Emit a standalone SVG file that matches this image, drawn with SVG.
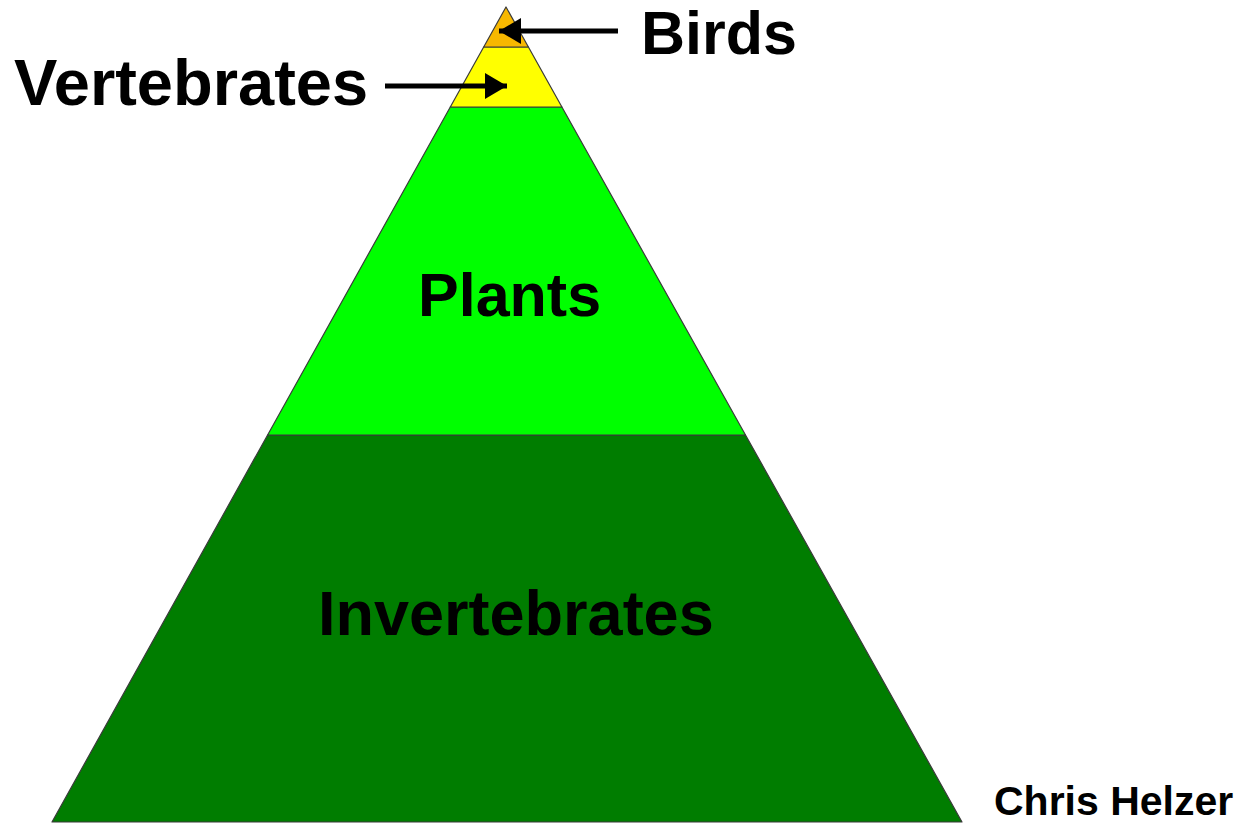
<svg xmlns="http://www.w3.org/2000/svg" width="1249" height="824" viewBox="0 0 1249 824">
  <style>
    .layer { stroke: #3a3a3a; stroke-width: 1.2; stroke-linejoin: round; }
    .lbl { font-family: "Liberation Sans", Arial, sans-serif; font-weight: bold; fill: #000; }
    .arrow { stroke: #000; stroke-width: 5; fill: none; }
  </style>
  <defs>
    <marker id="ah" markerUnits="userSpaceOnUse" markerWidth="24" markerHeight="28" refX="22" refY="13" orient="auto">
      <path d="M0,0 L22,13 L0,26 Z" fill="#000"/>
    </marker>
  </defs>
  <rect width="1249" height="824" fill="#fff"/>
  <g id="invertebrates">
    <polygon class="layer" points="267.6,435 745.5,435 962,822 52,822" fill="#007D00"/>
    <text class="lbl" x="318" y="635" font-size="63">Invertebrates</text>
  </g>
  <g id="plants">
    <polygon class="layer" points="450.3,107 561.9,107 745.5,435 267.6,435" fill="#00FF00"/>
    <text class="lbl" x="418" y="316" font-size="61">Plants</text>
  </g>
  <g id="vertebrates">
    <polygon class="layer" points="483.7,47 528.4,47 561.9,107 450.3,107" fill="#FFFF00"/>
    <text class="lbl" x="14" y="105" font-size="65">Vertebrates</text>
  </g>
  <g id="birds">
    <polygon class="layer" points="506,7 528.4,47 483.7,47" fill="#F7B800"/>
    <text class="lbl" x="641" y="54" font-size="61">Birds</text>
  </g>
  <g id="connectors">
    <line class="arrow" x1="618" y1="31" x2="499" y2="31" marker-end="url(#ah)"/>
    <line class="arrow" x1="385" y1="86" x2="507" y2="86" marker-end="url(#ah)"/>
  </g>
  <g id="credit">
    <text class="lbl" x="994" y="815" font-size="41">Chris Helzer</text>
  </g>
</svg>
